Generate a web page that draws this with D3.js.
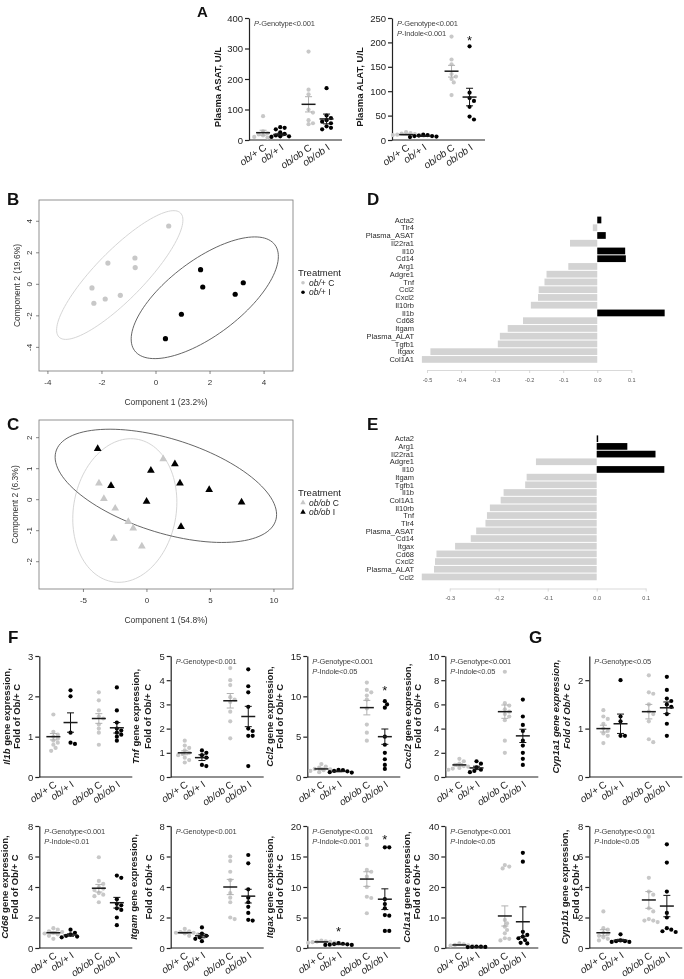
<!DOCTYPE html>
<html><head><meta charset="utf-8">
<script src="https://cdn.jsdelivr.net/npm/d3@7"></script>
<style>body{margin:0;background:#fff}svg{display:block;will-change:transform}</style>
</head><body><svg id="c" width="684" height="979"></svg>
<script>
// ---------------- DATA ----------------
const groups = ["ob/+ C","ob/+ I","ob/ob C","ob/ob I"];

// Panel A
const asatValues = [[78,28,22,18,15,12,10,8],[42,40,35,25,20,15,12,12,10],[290,165,150,100,90,65,55,52],[170,80,72,65,60,55,45,40,35]];
const asatMean = [24,18,117,69];
const asatSem = [8,4,25,16];
const alatValues = [[16,14,13,12,11,10,10,9],[11,10,9,8,8,7,6],[212,165,155,135,130,125,118,92],[192,97,86,80,68,48,42]];
const alatMean = [11,8,141,88];
const alatSem = [1,0.8,12,18];

// Panel F row 1
const il1bValues = [[1.55,1.12,1.05,1.0,0.95,0.9,0.85,0.8,0.72,0.65],[2.15,2.0,1.1,0.85,0.82],[2.1,1.9,1.65,1.5,1.45,1.3,1.2,1.1,0.8],[2.22,1.65,1.35,1.2,1.15,1.1,1.05,1.0,0.9]];
const il1bMean = [1.0,1.35,1.45,1.22];
const il1bSem = [0.08,0.24,0.12,0.13];
const tnfValues = [[1.5,1.3,1.2,1.1,1.0,0.95,0.9,0.8,0.7,0.6],[1.1,1.0,0.9,0.8,0.5,0.45],[4.5,4.0,3.8,3.3,3.2,3.1,2.7,2.3,1.6],[4.45,3.75,3.5,2.9,2.0,1.9,1.7,1.7,0.45]];
const tnfMean = [1.0,0.8,3.15,2.5];
const tnfSem = [0.08,0.12,0.3,0.42];
const ccl2Values = [[1.6,1.3,1.15,1.0,0.95,0.85,0.75,0.6],[0.9,0.85,0.75,0.7,0.6,0.55],[11.7,10.8,10.5,10.1,9.6,8.5,6.5,5.5,4.5],[9.4,9.0,8.6,5.0,4.0,3.0,2.2,1.5,1.0]];
const ccl2Mean = [1.0,0.7,8.6,5.0];
const ccl2Sem = [0.12,0.05,0.9,0.95];
const cxcl2Values = [[1.5,1.3,1.1,1.0,0.9,0.85,0.75,0.7,0.6],[1.3,1.1,0.8,0.6,0.5,0.4],[8.7,6.1,5.9,5.6,5.4,5.2,5.0,4.7,3.0,2.0],[6.4,5.0,4.3,3.8,3.0,2.6,2.0,1.5,1.0]];
const cxcl2Mean = [1.0,0.75,5.4,3.4];
const cxcl2Sem = [0.1,0.14,0.55,0.55];
const cyp1a1Values = [[1.38,1.25,1.2,1.1,1.0,0.95,0.9,0.85,0.7],[2.0,1.25,1.15,0.85,0.85],[2.1,1.75,1.72,1.5,1.35,1.3,1.15,0.78,0.72],[2.07,1.8,1.62,1.57,1.5,1.45,1.3,1.1,0.85]];
const cyp1a1Mean = [1.0,1.1,1.35,1.43];
const cyp1a1Sem = [0.07,0.2,0.15,0.12];

// Panel F row 2
const cd68Values = [[1.3,1.2,1.1,1.05,1.0,0.95,0.9,0.8,0.6],[1.2,1.0,0.9,0.8,0.75,0.7],[5.95,4.4,4.2,4.0,3.9,3.8,3.6,3.5,3.4,3.0],[4.75,4.6,3.2,2.9,2.8,2.6,2.5,2.0,1.5]];
const cd68Mean = [1.0,0.85,3.92,2.97];
const cd68Sem = [0.07,0.08,0.25,0.35];
const itgamValues = [[1.25,1.1,1.05,1.0,1.0,0.95,0.9,0.8],[1.35,0.95,0.8,0.7,0.6,0.45],[6.0,5.7,5.0,4.45,3.6,3.3,3.0,2.0,1.9],[6.1,5.55,3.85,3.3,3.0,2.7,2.3,1.85,1.8]];
const itgamMean = [1.0,0.8,4.0,3.4];
const itgamSem = [0.05,0.13,0.5,0.45];
const itgaxValues = [[1.2,1.1,1.05,1.0,0.95,0.9,0.85,0.8],[0.8,0.7,0.65,0.6,0.55,0.5,0.5],[18.0,16.9,12.8,12.5,11.7,10.0,8.4,8.2,5.7],[16.5,16.5,8.0,7.2,6.5,5.4,5.3,2.8,2.8]];
const itgaxMean = [1.0,0.6,11.3,8.0];
const itgaxSem = [0.05,0.04,1.2,1.7];
const col1a1Values = [[1.5,1.2,1.0,0.9,0.8,0.7],[0.5,0.45,0.4,0.35,0.3],[27.2,26.7,26.1,9.2,8.1,7.0,5.9,4.8,3.2,3.0,2.5],[31.2,28.3,5.3,4.3,3.7,3.2,2.6,1.7,1.5]];
const col1a1Mean = [1.0,0.4,10.5,8.6];
const col1a1Sem = [0.12,0.04,3.3,4.9];
const cyp1b1Values = [[2.4,1.3,1.2,1.0,0.9,0.8,0.7,0.6,0.5],[0.9,0.5,0.45,0.45,0.4,0.4],[7.3,4.6,3.7,3.5,2.6,2.4,1.9,1.8,1.8,1.7],[6.8,5.6,3.7,2.3,2.0,1.3,1.2,1.1,1.05]];
const cyp1b1Mean = [1.0,0.5,3.15,2.75];
const cyp1b1Sem = [0.2,0.07,0.55,0.7];

// Panel B (PCA ob/+)
const pcaBControlX = [0.47,-1.78,-0.78,-0.77,-2.37,-2.3,-1.88,-1.32];
const pcaBControlY = [3.7,1.35,1.67,1.06,-0.23,-1.2,-0.93,-0.7];
const pcaBIndoleX = [1.65,1.73,3.23,2.93,0.94,0.35];
const pcaBIndoleY = [0.93,-0.17,0.1,-0.63,-1.9,-3.45];
// Panel C (PCA ob/ob)
const pcaCControlX = [1.28,-3.78,-3.39,-2.5,-1.47,-1.08,-2.6,-0.4];
const pcaCControlY = [1.31,0.53,0.03,-0.28,-0.71,-0.92,-1.25,-1.5];
const pcaCIndoleX = [-3.88,2.2,0.31,-2.83,2.6,4.9,-0.03,7.45,2.68];
const pcaCIndoleY = [1.64,1.15,0.94,0.45,0.53,0.32,-0.06,-0.08,-0.87];

// Panel D / E loadings
const dLabels = ["Acta2","Tlr4","Plasma_ASAT","Il22ra1","Il10","Cd14","Arg1","Adgre1","Tnf","Ccl2","Cxcl2","Il10rb","Il1b","Cd68","Itgam","Plasma_ALAT","Tgfb1","Itgax","Col1A1"];
const dValues = [0.012,-0.013,0.025,-0.08,0.082,0.084,-0.085,-0.149,-0.155,-0.172,-0.174,-0.195,0.198,-0.218,-0.263,-0.286,-0.292,-0.49,-0.515];
const dTicks = [-0.5,-0.4,-0.3,-0.2,-0.1,0.0,0.1];
const eLabels = ["Acta2","Arg1","Il22ra1","Adgre1","Il10","Itgam","Tgfb1","Il1b","Col1A1","Il10rb","Tnf","Tlr4","Plasma_ASAT","Cd14","Itgax","Cd68","Cxcl2","Plasma_ALAT","Ccl2"];
const eValues = [0.003,0.0625,0.12,-0.124,0.138,-0.143,-0.146,-0.19,-0.196,-0.218,-0.224,-0.227,-0.246,-0.257,-0.289,-0.327,-0.33,-0.332,-0.357];
const eTicks = [-0.3,-0.2,-0.1,0.0,0.1];

// ---------------- DRAWING ----------------
const FONT = '"Liberation Sans", Arial, Helvetica, sans-serif';
const svg = d3.select("#c").attr("font-family", FONT);
const GRAY = "#c8c8c8";

function panelLabel(t, x, y, s) {
  svg.append("text").attr("x", x).attr("y", y).attr("font-size", s || 17)
    .attr("font-weight", "bold").attr("fill", "#111").text(t);
}

function swarm(vals, cx, y, r) {
  const placed = [];
  const sorted = vals.slice().sort((a, b) => b - a);
  const offs = [0];
  for (let i = 1; i < 12; i++) offs.push(i * r * 1.05, -i * r * 1.05);
  for (const v of sorted) {
    const py = y(v);
    let px = cx;
    for (const o of offs) {
      px = cx + o;
      if (placed.every(p => Math.hypot(p[0] - px, p[1] - py) >= 2 * r * 0.92)) break;
    }
    placed.push([px, py]);
  }
  return placed;
}

function addSegments(textSel, segs) {
  segs.forEach(([it, t]) => {
    textSel.append("tspan").attr("font-style", it ? "italic" : null).text(t);
  });
}

function dotPanel(c) {
  const W = 93;
  const g = svg.append("g");
  const y = d3.scaleLinear().domain([0, c.max]).range([c.bottom, c.top]);
  const x = d3.scaleLinear().domain([-0.82, 4.6]).range([c.x0, c.x0 + W]);
  const slots = [0, 1, 2.65, 3.7];
  const ax = g.append("g").attr("transform", `translate(${c.x0},0)`)
    .call(d3.axisLeft(y).tickValues(c.ticks).tickFormat(d => String(d)).tickSize(4).tickSizeOuter(0).tickPadding(2));
  ax.attr("font-family", FONT).attr("font-size", 9.5);
  ax.select(".domain").attr("stroke", "#222").attr("stroke-width", 1.2);
  ax.selectAll(".tick line").attr("stroke", "#222").attr("stroke-width", 1.2);
  ax.selectAll(".tick text").attr("fill", "#222");
  g.append("line").attr("x1", c.x0).attr("x2", c.x0 + W).attr("y1", y(0)).attr("y2", y(0))
    .attr("stroke", "#222").attr("stroke-width", 1.2);
  // x labels
  groups.forEach((gr, i) => {
    const cx = x(slots[i]);
    const k = gr.lastIndexOf(" ");
    const t = g.append("text").attr("transform", `translate(${cx + 4},${y(0) + 9}) rotate(-35)`)
      .attr("text-anchor", "end").attr("font-size", 10).attr("fill", "#222");
    addSegments(t, [[true, gr.slice(0, k)], [false, gr.slice(k)]]);
  });
  // points, sem, mean
  c.values.forEach((vals, i) => {
    const cx = x(slots[i]);
    const col = i % 2 ? "#000" : GRAY;
    const pts = swarm(vals, cx, y, 2.1);
    g.selectAll(null).data(pts).enter().append("circle")
      .attr("cx", d => d[0]).attr("cy", d => d[1]).attr("r", 2.1).attr("fill", col);
    const m = c.mean[i], s = c.sem[i];
    const semCol = i % 2 ? "#111" : "#b0b0b0";
    g.append("line").attr("x1", cx).attr("x2", cx).attr("y1", y(m - s)).attr("y2", y(m + s))
      .attr("stroke", semCol).attr("stroke-width", 1);
    [m - s, m + s].forEach(v => g.append("line").attr("x1", cx - 3.5).attr("x2", cx + 3.5)
      .attr("y1", y(v)).attr("y2", y(v)).attr("stroke", semCol).attr("stroke-width", 1));
    g.append("line").attr("x1", cx - 7).attr("x2", cx + 7).attr("y1", y(m)).attr("y2", y(m))
      .attr("stroke", "#1a1a1a").attr("stroke-width", 1.5);
  });
  // stars
  (c.stars || []).forEach(([gi, v]) => {
    g.append("text").attr("x", x(slots[gi])).attr("y", y(v) + 5.5).attr("text-anchor", "middle")
      .attr("font-size", 13).attr("fill", "#111").text("*");
  });
  // p texts
  (c.p || []).forEach((t, i) => {
    const tx = g.append("text").attr("x", c.x0 + 5).attr("y", c.top + 7.5 + i * 10)
      .attr("font-size", 7.5).attr("fill", "#444").attr("letter-spacing", -0.15);
    addSegments(tx, [[true, "P"], [false, "-" + t]]);
  });
  // title
  const midY = (c.top + c.bottom) / 2 + (c.titleDy || 0);
  c.title.forEach((line, li) => {
    const tx = g.append("text").attr("transform", `translate(${c.x0 + c.titleOff[li]},${midY}) rotate(-90)`)
      .attr("text-anchor", "middle").attr("font-size", 9.5).attr("font-weight", "bold")
      .attr("fill", "#1a1a1a").attr("font-style", c.titleItalic ? "italic" : null);
    addSegments(tx, line);
  });
}

function geneTitle(gene) {
  return [[[true, gene], [false, " gene expression,"]], [[false, "Fold of Ob/+ C"]]];
}

const rowTop1 = 656, rowBot1 = 777, rowTop2 = 826, rowBot2 = 948;
const cols = [39.3, 170.7, 307.3, 445.3, 589.3];

const panels = [
  {values: asatValues, mean: asatMean, sem: asatSem, max: 400, ticks: [0,100,200,300,400], x0: 249, top: 18, bottom: 140,
   title: [[[false, "Plasma ASAT, U/L"]]], titleOff: [-28], titleDy: 8, p: ["Genotype<0.001"]},
  {values: alatValues, mean: alatMean, sem: alatSem, max: 250, ticks: [0,50,100,150,200,250], x0: 392, top: 18, bottom: 140,
   title: [[[false, "Plasma ALAT, U/L"]]], titleOff: [-29], titleDy: 8, p: ["Genotype<0.001", "Indole<0.001"], stars: [[3, 206]]},
  {values: il1bValues, mean: il1bMean, sem: il1bSem, max: 3, ticks: [0,1,2,3], x0: cols[0], top: rowTop1, bottom: rowBot1,
   title: geneTitle("Il1b"), titleOff: [-29, -19], p: []},
  {values: tnfValues, mean: tnfMean, sem: tnfSem, max: 5, ticks: [0,1,2,3,4,5], x0: cols[1], top: rowTop1, bottom: rowBot1,
   title: geneTitle("Tnf"), titleOff: [-32, -20], p: ["Genotype<0.001"]},
  {values: ccl2Values, mean: ccl2Mean, sem: ccl2Sem, max: 15, ticks: [0,5,10,15], x0: cols[2], top: rowTop1, bottom: rowBot1,
   title: geneTitle("Ccl2"), titleOff: [-34, -24], p: ["Genotype<0.001", "Indole<0.05"], stars: [[3, 10.9]]},
  {values: cxcl2Values, mean: cxcl2Mean, sem: cxcl2Sem, max: 10, ticks: [0,2,4,6,8,10], x0: cols[3], top: rowTop1, bottom: rowBot1,
   title: geneTitle("Cxcl2"), titleOff: [-34.5, -24], p: ["Genotype<0.001", "Indole<0.05"]},
  {values: cyp1a1Values, mean: cyp1a1Mean, sem: cyp1a1Sem, max: 2.5, ticks: [0,1,2], x0: cols[4], top: rowTop1, bottom: rowBot1,
   title: geneTitle("Cyp1a1"), titleOff: [-30, -19], titleItalic: true, p: ["Genotype<0.05"]},
  {values: cd68Values, mean: cd68Mean, sem: cd68Sem, max: 8, ticks: [0,2,4,6,8], x0: cols[0], top: rowTop2, bottom: rowBot2,
   title: geneTitle("Cd68"), titleOff: [-31, -21], p: ["Genotype<0.001", "Indole<0.01"]},
  {values: itgamValues, mean: itgamMean, sem: itgamSem, max: 8, ticks: [0,2,4,6,8], x0: cols[1], top: rowTop2, bottom: rowBot2,
   title: geneTitle("Itgam"), titleOff: [-34, -18.5], p: ["Genotype<0.001"]},
  {values: itgaxValues, mean: itgaxMean, sem: itgaxSem, max: 20, ticks: [0,5,10,15,20], x0: cols[2], top: rowTop2, bottom: rowBot2,
   title: geneTitle("Itgax"), titleOff: [-34, -24], p: ["Genotype<0.001", "Indole<0.001"], stars: [[1, 2.8], [3, 17.9]]},
  {values: col1a1Values, mean: col1a1Mean, sem: col1a1Sem, max: 40, ticks: [0,10,20,30,40], x0: cols[3], top: rowTop2, bottom: rowBot2,
   title: geneTitle("Col1a1"), titleOff: [-35, -25], p: ["Genotype<0.001", "Indole<0.05"]},
  {values: cyp1b1Values, mean: cyp1b1Mean, sem: cyp1b1Sem, max: 8, ticks: [0,2,4,6,8], x0: cols[4], top: rowTop2, bottom: rowBot2,
   title: geneTitle("Cyp1b1"), titleOff: [-21, -10], p: ["Genotype<0.001", "Indole<0.05"]}
];
panels.forEach(dotPanel);

// ---- PCA panels ----
function ellipsePts(xs, ys) {
  const n = xs.length;
  const mx = d3.mean(xs), my = d3.mean(ys);
  let sxx = 0, syy = 0, sxy = 0;
  for (let i = 0; i < n; i++) {
    sxx += (xs[i] - mx) ** 2; syy += (ys[i] - my) ** 2; sxy += (xs[i] - mx) * (ys[i] - my);
  }
  sxx /= n - 1; syy /= n - 1; sxy /= n - 1;
  const t = Math.sqrt(5.991);
  const r = sxy / Math.sqrt(sxx * syy);
  const dd = Math.acos(Math.max(-1, Math.min(1, r)));
  const out = [];
  for (let i = 0; i <= 120; i++) {
    const a = -Math.PI + 2 * Math.PI * i / 120;
    out.push([mx + t * Math.sqrt(sxx) * Math.cos(a + dd / 2), my + t * Math.sqrt(syy) * Math.cos(a - dd / 2)]);
  }
  return out;
}

function pcaPanel(c) {
  const x = d3.scaleLinear().domain(c.xd).range([c.l, c.r]);
  const y = d3.scaleLinear().domain(c.yd).range([c.b, c.t]);
  const g = svg.append("g");
  g.append("clipPath").attr("id", "clip" + c.id).append("rect")
    .attr("x", c.l).attr("y", c.t).attr("width", c.r - c.l).attr("height", c.b - c.t);
  c.sets.forEach(s => {
    const e = ellipsePts(s.x, s.y);
    g.append("path").attr("d", d3.line().x(d => x(d[0])).y(d => y(d[1]))(e))
      .attr("fill", "none").attr("stroke", s.ecol).attr("stroke-width", 0.9)
      .attr("clip-path", `url(#clip${c.id})`);
  });
  c.sets.forEach(s => {
    const pts = s.x.map((v, i) => [x(v), y(s.y[i])]);
    if (c.shape === "circle") {
      g.selectAll(null).data(pts).enter().append("circle")
        .attr("cx", d => d[0]).attr("cy", d => d[1]).attr("r", 2.6).attr("fill", s.col);
    } else {
      g.selectAll(null).data(pts).enter().append("path")
        .attr("d", d3.symbol().type(d3.symbolTriangle).size(26))
        .attr("transform", d => `translate(${d[0]},${d[1]})`).attr("fill", s.col);
    }
  });
  g.append("rect").attr("x", c.l).attr("y", c.t).attr("width", c.r - c.l).attr("height", c.b - c.t)
    .attr("fill", "none").attr("stroke", "#777").attr("stroke-width", 0.8);
  c.xt.forEach(v => {
    g.append("line").attr("x1", x(v)).attr("x2", x(v)).attr("y1", c.b).attr("y2", c.b + 3).attr("stroke", "#555").attr("stroke-width", 0.7);
    g.append("text").attr("x", x(v)).attr("y", c.b + 13.5).attr("text-anchor", "middle")
      .attr("font-size", 8).attr("fill", "#333").text(String(v));
  });
  c.yt.forEach(v => {
    g.append("line").attr("x1", c.l - 3).attr("x2", c.l).attr("y1", y(v)).attr("y2", y(v)).attr("stroke", "#555").attr("stroke-width", 0.7);
    g.append("text").attr("transform", `translate(${c.l - 7},${y(v)}) rotate(-90)`).attr("text-anchor", "middle")
      .attr("font-size", 8).attr("fill", "#333").text(String(v));
  });
  g.append("text").attr("x", (c.l + c.r) / 2).attr("y", c.b + 34).attr("text-anchor", "middle")
    .attr("font-size", 8.5).attr("fill", "#333").text(c.xlab);
  g.append("text").attr("transform", `translate(${c.ylabX},${(c.t + c.b) / 2}) rotate(-90)`).attr("text-anchor", "middle")
    .attr("font-size", 8.5).attr("fill", "#333").text(c.ylab);
  // legend
  const ly = c.legY;
  g.append("text").attr("x", 298).attr("y", ly).attr("font-size", 9.5).attr("fill", "#222").text("Treatment");
  c.sets.forEach((s, i) => {
    const yy = ly + 9.5 + i * 9.5;
    if (c.shape === "circle") {
      g.append("circle").attr("cx", 303).attr("cy", yy - 2.8).attr("r", 1.8).attr("fill", s.col);
    } else {
      g.append("path").attr("d", d3.symbol().type(d3.symbolTriangle).size(13))
        .attr("transform", `translate(303,${yy - 2.8})`).attr("fill", s.col);
    }
    const k = s.name.lastIndexOf(" ");
    const t = g.append("text").attr("x", 309).attr("y", yy).attr("font-size", 8.5).attr("fill", "#222");
    addSegments(t, [[true, s.name.slice(0, k)], [false, s.name.slice(k)]]);
  });
}

pcaPanel({id: "B", l: 39, r: 293, t: 200, b: 371, xd: [-4.33, 5.07], yd: [-5.5, 5.35],
  xt: [-4, -2, 0, 2, 4], yt: [-4, -2, 0, 2, 4], shape: "circle",
  xlab: "Component 1 (23.2%)", ylab: "Component 2 (19.6%)", ylabX: 19.5, legY: 276,
  sets: [{x: pcaBControlX, y: pcaBControlY, col: GRAY, ecol: "#d0d0d0", name: groups[0]},
         {x: pcaBIndoleX, y: pcaBIndoleY, col: "#000", ecol: "#555", name: groups[1]}]});

pcaPanel({id: "C", l: 39, r: 293, t: 420, b: 589, xd: [-8.5, 11.5], yd: [-2.88, 2.57],
  xt: [-5, 0, 5, 10], yt: [-2, -1, 0, 1, 2], shape: "triangle",
  xlab: "Component 1 (54.8%)", ylab: "Component 2 (6.3%)", ylabX: 17.5, legY: 496,
  sets: [{x: pcaCControlX, y: pcaCControlY, col: GRAY, ecol: "#d0d0d0", name: groups[2]},
         {x: pcaCIndoleX, y: pcaCIndoleY, col: "#000", ecol: "#555", name: groups[3]}]});

// ---- Loading bar panels ----
function barPanel(c) {
  const x = d3.scaleLinear().domain([c.ticks[0], c.ticks[c.ticks.length - 1]]).range(c.xr);
  const y = d3.scaleBand().domain(c.labels).range([c.rowTop, c.rowTop + c.labels.length * c.step]).padding(0.13);
  const g = svg.append("g");
  g.selectAll(null).data(c.values).enter().append("rect")
    .attr("x", d => x(Math.min(0, d))).attr("width", d => Math.abs(x(d) - x(0)))
    .attr("y", (d, i) => y(c.labels[i])).attr("height", y.bandwidth())
    .attr("fill", d => d > 0 ? "#000" : "#d3d3d3");
  g.selectAll(null).data(c.labels).enter().append("text")
    .attr("x", 414).attr("y", d => y(d) + y.bandwidth() / 2 + 2.7).attr("text-anchor", "end")
    .attr("font-size", 7.5).attr("fill", "#2a2a2a").text(d => d);
  const ax = g.append("g").attr("transform", `translate(0,${c.axisY})`)
    .call(d3.axisBottom(x).tickValues(c.ticks).tickSize(3).tickSizeOuter(0).tickPadding(5)
      .tickFormat(d => d.toFixed(1)));
  ax.attr("font-family", FONT).attr("font-size", 5.5);
  ax.select(".domain").attr("stroke", "#cfcfcf").attr("stroke-width", 0.8);
  ax.selectAll(".tick line").attr("stroke", "#cfcfcf").attr("stroke-width", 0.8);
  ax.selectAll(".tick text").attr("fill", "#555");
}

barPanel({labels: dLabels, values: dValues, ticks: dTicks, xr: [427, 631.3], rowTop: 215.6, step: 7.8, axisY: 370});
barPanel({labels: eLabels, values: eValues, ticks: eTicks, xr: [449.7, 645.7], rowTop: 434.4, step: 7.73, axisY: 588.5});

// panel labels
panelLabel("A", 197, 17, 15);
panelLabel("B", 7, 205);
panelLabel("D", 367, 205);
panelLabel("C", 7, 430);
panelLabel("E", 367, 430);
panelLabel("F", 8, 643);
panelLabel("G", 529, 643);
</script></body></html>
